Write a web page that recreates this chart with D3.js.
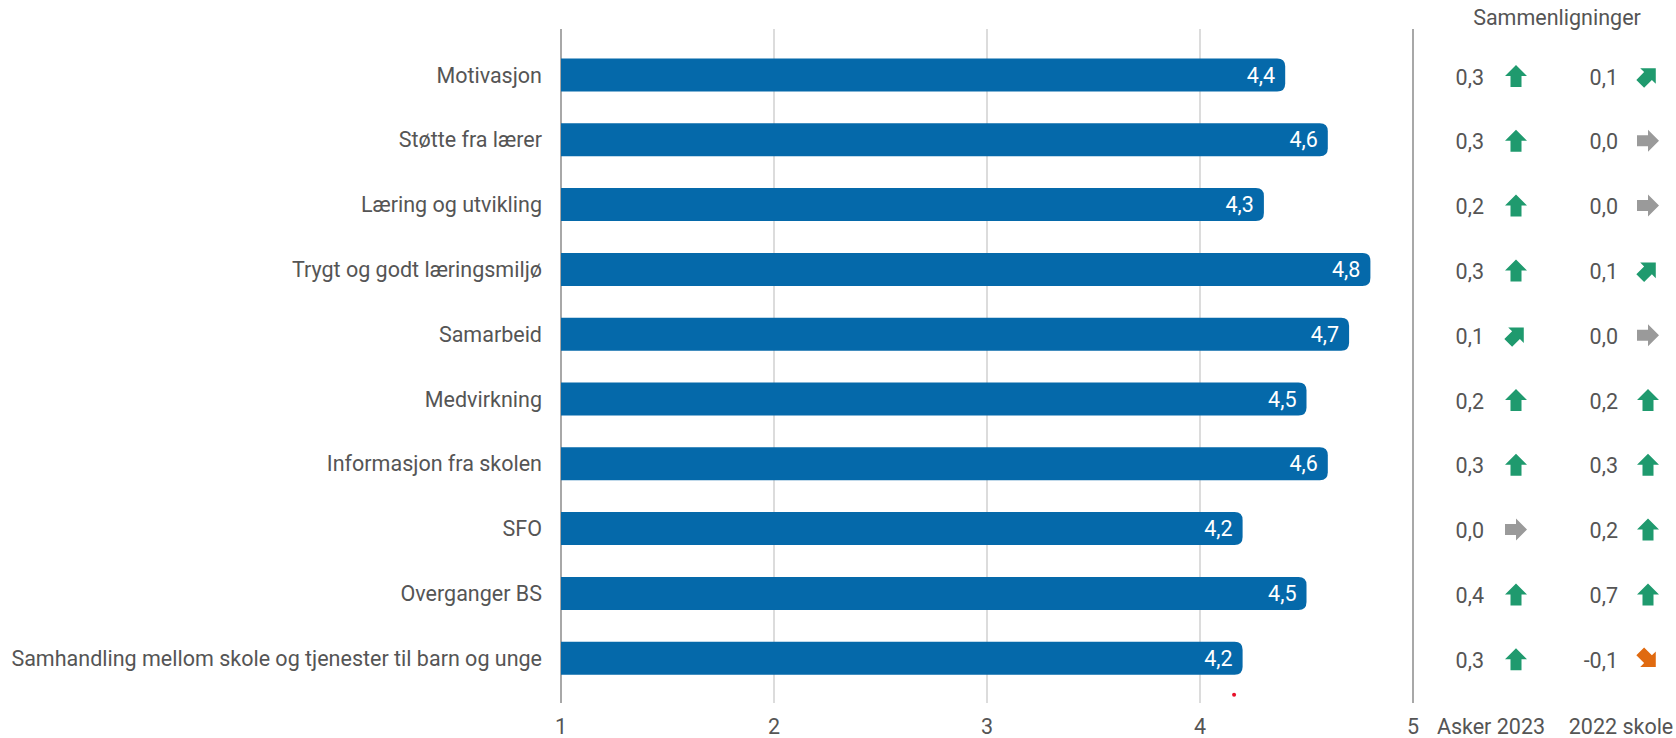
<!DOCTYPE html>
<html><head><meta charset="utf-8">
<script src="https://cdn.jsdelivr.net/npm/d3@7"></script>
<style>
html,body{margin:0;padding:0;background:#fff;}
svg{display:block;font-family:Roboto,"Noto Sans",sans-serif;}
</style></head>
<body>
<svg id="chart" width="1676" height="738"></svg>
<script>
const categories = ["Motivasjon","Støtte fra lærer","Læring og utvikling","Trygt og godt læringsmiljø","Samarbeid","Medvirkning","Informasjon fra skolen","SFO","Overganger BS","Samhandling mellom skole og tjenester til barn og unge"];
const scores = [4.4,4.6,4.3,4.8,4.7,4.5,4.6,4.2,4.5,4.2];
const askerDiff = [0.3,0.3,0.2,0.3,0.1,0.2,0.3,0.0,0.4,0.3];
const skoleDiff = [0.1,0.0,0.0,0.1,0.0,0.2,0.3,0.2,0.7,-0.1];
const xTicks = [1,2,3,4,5];
const compareLabels = ["Asker 2023","2022 skole"];
const headerText = "Sammenligninger";

const svg = d3.select("#chart");
const loc = d3.formatLocale({decimal:",",thousands:" ",grouping:[3],currency:["","kr"],minus:"-"});
const f1 = loc.format(".1f");

const x = d3.scaleLinear().domain([1,5]).range([561,1413]);
const y = d3.scaleBand().domain(categories).range([42.6,690.6]).paddingInner(0.49).paddingOuter(0.245);
const yTop = 29, yBot = 703;
const FS = 21.5;

// gridlines
svg.append("g").selectAll("line").data(xTicks).join("line")
  .attr("x1",d=>x(d)).attr("x2",d=>x(d)).attr("y1",yTop).attr("y2",yBot)
  .attr("stroke",d=>(d===1||d===5)?"#a8a8a8":"#dcdcdc").attr("stroke-width",2);

// x axis tick labels
svg.append("g").selectAll("text").data(xTicks).join("text")
  .attr("x",d=>x(d)).attr("y",734).attr("text-anchor","middle")
  .attr("font-size",FS).attr("fill","#555").text(d=>d);

// category labels
svg.append("g").selectAll("text").data(categories).join("text")
  .attr("x",542).attr("y",d=>y(d)+y.bandwidth()/2).attr("dy","0.35em")
  .attr("text-anchor","end").attr("font-size",FS).attr("fill","#555").text(d=>d);

// bars
const r = 8;
svg.append("g").selectAll("path").data(categories).join("path")
  .attr("fill","#0569aa")
  .attr("d",(d,i)=>{
    const x0=x(1), x1=x(scores[i]), t=y(d), h=y.bandwidth();
    return `M${x0},${t}H${x1-r}Q${x1},${t} ${x1},${t+r}V${t+h-r}Q${x1},${t+h} ${x1-r},${t+h}H${x0}Z`;
  });

// bar value labels
svg.append("g").selectAll("text").data(categories).join("text")
  .attr("x",(d,i)=>x(scores[i])-10).attr("y",d=>y(d)+y.bandwidth()/2).attr("dy","0.35em")
  .attr("text-anchor","end").attr("font-size",FS).attr("fill","#fff").text((d,i)=>f1(scores[i]));

// red marker dot
svg.append("circle").attr("cx",x(4.16)).attr("cy",y(categories[9])+y.bandwidth()+20).attr("r",2).attr("fill","#e8102a");

// header
svg.append("text").attr("x",1557).attr("y",25).attr("text-anchor","middle")
  .attr("font-size",FS).attr("fill","#555").text(headerText);

// comparison columns
const cols = [{vals:askerDiff,numX:1484,arrX:1516,labX:1491},{vals:skoleDiff,numX:1618,arrX:1648,labX:1621}];
const arrowPath = "M0,-11 L11,0 L5.5,0 L5.5,11 L-5.5,11 L-5.5,0 L-11,0 Z";
function arrowAngle(v){ v=Math.round(v*10); if(v>=2) return 0; if(v===1) return 45; if(v===0) return 90; if(v===-1) return 135; return 180; }
function arrowColor(v){ v=Math.round(v*10); if(v>0) return "#1f9a6e"; if(v===0) return "#9a9a9a"; return "#e06a10"; }

cols.forEach((c,ci)=>{
  const g = svg.append("g");
  g.selectAll("text.num").data(categories).join("text").attr("class","num")
    .attr("x",c.numX).attr("y",d=>y(d)+y.bandwidth()/2+2).attr("dy","0.35em")
    .attr("text-anchor","end").attr("font-size",FS).attr("fill","#555")
    .text((d,i)=>f1(c.vals[i]));
  g.selectAll("path").data(categories).join("path")
    .attr("d",arrowPath)
    .attr("transform",(d,i)=>`translate(${c.arrX},${y(d)+y.bandwidth()/2+1}) rotate(${arrowAngle(c.vals[i])})`)
    .attr("fill",(d,i)=>arrowColor(c.vals[i]));
  svg.append("text").attr("x",c.labX).attr("y",734).attr("text-anchor","middle")
    .attr("font-size",FS).attr("fill","#555").text(compareLabels[ci]);
});
</script>
</body></html>
